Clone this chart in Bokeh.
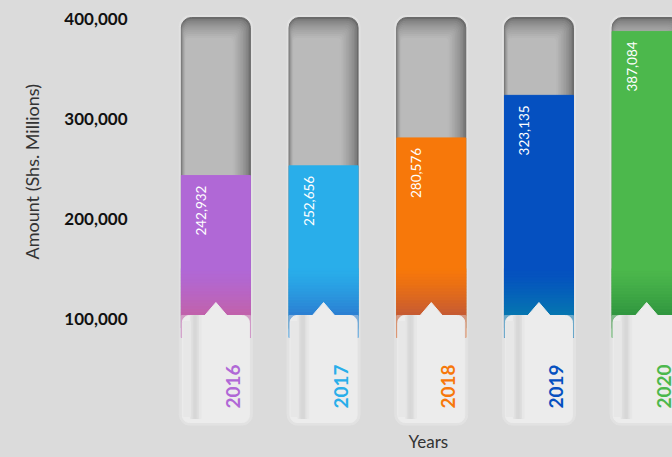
import math
from bokeh.plotting import figure
from bokeh.models import Range1d, Title, NumeralTickFormatter, FixedTicker
from bokeh.core.properties import value
from bokeh.embed import file_html
from bokeh.resources import INLINE

# ---------------- data ----------------
years = ["2016", "2017", "2018", "2019", "2020"]
amounts = [242932, 252656, 280576, 323135, 387084]
colors_top = ["#b068d6", "#29aeea", "#f7780a", "#0550c0", "#4cb84c"]
colors_bottom = ["#c262aa", "#2c7fd2", "#c55a34", "#0677b0", "#31963f"]
y_ticks = [100000, 200000, 300000, 400000]
y_title = "Amount (Shs. Millions)"
x_title = "Years"

# ---------------- style ----------------
BG = "#dbdbdb"
W, H = 672, 457
FONT = "Lato"
FRAME_LEFT = 140
n = len(years)
xs = list(range(n))
X0, X1 = -0.70, n - 0.76
Y0, Y1 = -7000, 408000
PXX = (X1 - X0) / (W - FRAME_LEFT)   # data units per pixel (x)
PXY = (Y1 - Y0) / (H - 10 - 32)      # data units per pixel (y)
BAR_W = 69 * PXX
TAG_W = 67 * PXX
BASE = -4 * PXY
GRAY_TOP = y_ticks[-1] + 1 * PXY
TAG_TOP = y_ticks[0] + 3 * PXY
COL_BOTTOM = TAG_TOP - 22 * PXY


def hex2rgb(h):
    h = h.lstrip("#")
    return tuple(int(h[i:i + 2], 16) for i in (0, 2, 4))


def lerp(c1, c2, t):
    a, b = hex2rgb(c1), hex2rgb(c2)
    return "#%02x%02x%02x" % tuple(int(round(a[i] + (b[i] - a[i]) * t)) for i in range(3))


p = figure(width=W, height=H, output_backend="svg", toolbar_location=None,
           x_range=Range1d(X0, X1), y_range=Range1d(Y0, Y1),
           min_border_left=FRAME_LEFT, min_border_right=0,
           min_border_top=10, min_border_bottom=32,
           background_fill_color=None, border_fill_color=None, outline_line_color=None)
p.styles = {"background-color": BG}
p.xgrid.visible = False
p.ygrid.visible = False
p.xaxis.visible = False

ya = p.yaxis[0]
ya.ticker = FixedTicker(ticks=y_ticks)
ya.formatter = NumeralTickFormatter(format="0,0")
ya.axis_line_color = None
ya.major_tick_line_color = None
ya.minor_tick_line_color = None
ya.major_tick_out = 0
ya.major_tick_in = 0
ya.major_label_standoff = 13
ya.major_label_text_font = FONT
ya.major_label_text_font_style = "bold"
ya.major_label_text_font_size = "17px"
ya.major_label_text_color = "#111111"

p.add_layout(Title(text=y_title, align="left", offset=166, standoff=37,
                   text_font=FONT, text_font_style="normal", text_font_size="18px",
                   text_color="#333333"), "left")
p.add_layout(Title(text=x_title, align="left", offset=268, standoff=6,
                   text_font=FONT, text_font_style="normal", text_font_size="17px",
                   text_color="#333333"), "below")

# column outline
p.quad(left=[x - BAR_W / 2 - 2 * PXX for x in xs], right=[x + BAR_W / 2 + 2 * PXX for x in xs],
       top=[GRAY_TOP + 2 * PXY] * n, bottom=[BASE - 3 * PXY] * n,
       color="#e2e2e2", border_radius=11)

# gray background with shading layers
L = 12
for k in range(L):
    t = k / (L - 1)
    p.quad(left=[x - BAR_W / 2 + k * 0.4 * PXX for x in xs],
           right=[x + BAR_W / 2 - k * 1.6 * PXX for x in xs],
           top=[GRAY_TOP - k * 1.9 * PXY] * n, bottom=[COL_BOTTOM] * n,
           color=lerp("#6a6a6a", "#bababa", t ** 0.6), border_radius=max(10 - k, 3))

# coloured bars
p.vbar(x=xs, top=amounts, bottom=COL_BOTTOM, width=BAR_W, color=colors_top)

# bottom gradient of coloured bars
G_TOP = y_ticks[0] + 50 * PXY
NS = 16
h = (G_TOP - TAG_TOP) / NS
for j in range(NS):
    top = G_TOP - j * h
    p.quad(left=[x - BAR_W / 2 for x in xs], right=[x + BAR_W / 2 for x in xs],
           top=[min(top, a) for a in amounts], bottom=[top - h - 0.3 * PXY] * n,
           color=[lerp(ct, cb, ((j + 0.5) / NS) ** 1.3) for ct, cb in zip(colors_top, colors_bottom)])
p.quad(left=[x - BAR_W / 2 for x in xs], right=[x + BAR_W / 2 for x in xs],
       top=[TAG_TOP] * n, bottom=[COL_BOTTOM] * n,
       color=[lerp(cb, "#e8e8e8", 0.45) for cb in colors_bottom])

# tag
p.quad(left=[x - TAG_W / 2 for x in xs], right=[x + TAG_W / 2 for x in xs],
       top=[TAG_TOP] * n, bottom=[BASE] * n, color="#ececec", border_radius=7)
band = ["#e4e4e4", "#dedede", "#d9d9d9", "#d7d7d7", "#d9d9d9", "#dfdfdf", "#e7e7e7"]
for k, c in enumerate(band):
    p.quad(left=[x - TAG_W / 2 + (8 + 1.5 * k) * PXX for x in xs],
           right=[x - TAG_W / 2 + (9.6 + 1.5 * k) * PXX for x in xs],
           top=[TAG_TOP] * n, bottom=[BASE + 4 * PXY] * n, color=c)
p.quad(left=[x - TAG_W / 2 + 1 * PXX for x in xs], right=[x - TAG_W / 2 + 8 * PXX for x in xs],
       top=[TAG_TOP - 6 * PXY] * n, bottom=[BASE + 6 * PXY] * n, color="#e7e7e7")
p.patches(xs=[[x - 12 * PXX, x, x + 12 * PXX] for x in xs],
          ys=[[TAG_TOP - 1 * PXY, TAG_TOP + 13 * PXY, TAG_TOP - 1 * PXY] for _ in xs],
          color="#ececec")

# value labels
p.text(x=[x - 15 * PXX for x in xs], y=[a - 10 * PXY for a in amounts],
       text=[f"{a:,}" for a in amounts], angle=math.pi / 2,
       text_align="right", text_baseline="middle", text_color="white",
       text_font=value(FONT), text_font_size="13.5px")

# year labels in tags
p.text(x=[x + 17 * PXX for x in xs], y=[BASE + 36 * PXY] * n, text=years, angle=math.pi / 2,
       text_align="center", text_baseline="middle", text_color=colors_top,
       text_font=value(FONT), text_font_style="bold", text_font_size="19px")

open("out.html", "w").write(file_html(p, INLINE))
